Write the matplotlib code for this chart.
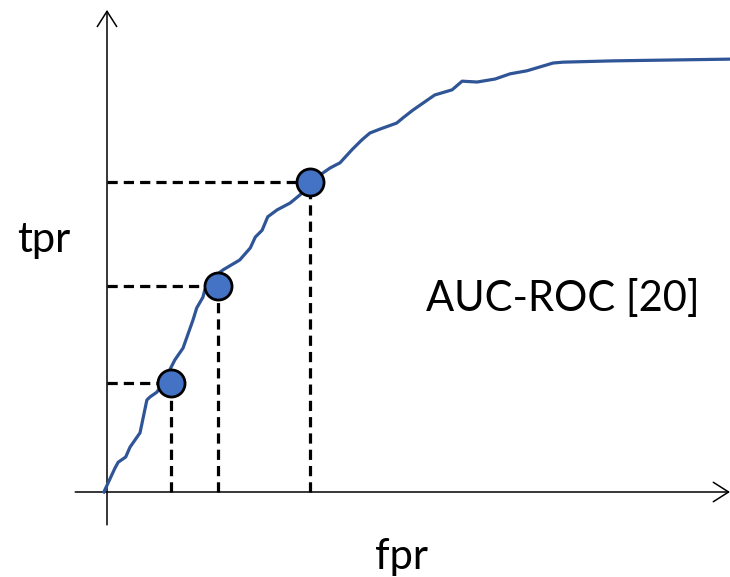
import matplotlib.pyplot as plt
import numpy as np

plt.rcParams['font.family'] = ['Lato', 'DejaVu Sans']

# ROC curve (fpr, tpr)
fpr = [-0.005, 0.013, 0.018, 0.030, 0.037, 0.053, 0.064, 0.069, 0.080, 0.088,
       0.098, 0.109, 0.122, 0.138, 0.144, 0.154, 0.157, 0.169, 0.186, 0.213,
       0.230, 0.238, 0.249, 0.258, 0.273, 0.294, 0.310, 0.326, 0.342, 0.358,
       0.374, 0.393, 0.409, 0.422, 0.438, 0.465, 0.475, 0.491, 0.507, 0.526,
       0.554, 0.570, 0.594, 0.623, 0.647, 0.674, 0.695, 0.716, 0.732, 0.812,
       1.000]
tpr = [0.000, 0.056, 0.069, 0.081, 0.104, 0.137, 0.213, 0.220, 0.231, 0.248,
       0.275, 0.306, 0.333, 0.398, 0.426, 0.451, 0.468, 0.495, 0.514, 0.537,
       0.565, 0.590, 0.606, 0.637, 0.653, 0.669, 0.688, 0.711, 0.734, 0.750,
       0.762, 0.792, 0.815, 0.831, 0.840, 0.854, 0.866, 0.884, 0.900, 0.919,
       0.931, 0.951, 0.949, 0.956, 0.968, 0.975, 0.984, 0.993, 0.995, 0.998,
       1.002]

# highlighted operating points
pt_fpr = [0.103, 0.178, 0.326]
pt_tpr = [0.252, 0.477, 0.718]

fig = plt.figure(figsize=(7.3, 5.77), dpi=100)
ax = fig.add_axes([0, 0, 1, 1])
ax.set_xlim(-107 / 623, 1.0)
ax.set_ylim(-85 / 432, 492 / 432)
ax.axis('off')

# axes with open arrow heads
arrow = dict(arrowstyle='->,head_length=0.55,head_width=0.35', color='black',
             lw=1.1, mutation_scale=20, shrinkA=0, shrinkB=0)
ax.annotate('', xy=(1.0, 0), xytext=(-0.051, 0), arrowprops=arrow)
ax.annotate('', xy=(0, 1.116), xytext=(0, -0.076), arrowprops=arrow)

# dashed guides
for x, y in zip(pt_fpr, pt_tpr):
    ax.plot([0, x], [y, y], color='black', lw=2.3, dashes=(3.2, 1.9), zorder=2)
    ax.plot([x, x], [0, y], color='black', lw=2.3, dashes=(3.2, 1.9), zorder=2)

ax.plot(fpr, tpr, color='#2F5597', lw=2.3, zorder=3)
ax.plot(pt_fpr, pt_tpr, 'o', ms=19.5, mfc='#4472C4', mec='black', mew=2,
        zorder=4)

ax.text(0.732, 0.448, 'AUC-ROC [20]', fontsize=30, ha='center', va='center')
ax.text(-0.101, 0.583, 'tpr', fontsize=30, ha='center', va='center')
ax.text(0.472, -0.150, 'fpr', fontsize=30, ha='center', va='center')

fig.savefig('out.png', dpi=100)
